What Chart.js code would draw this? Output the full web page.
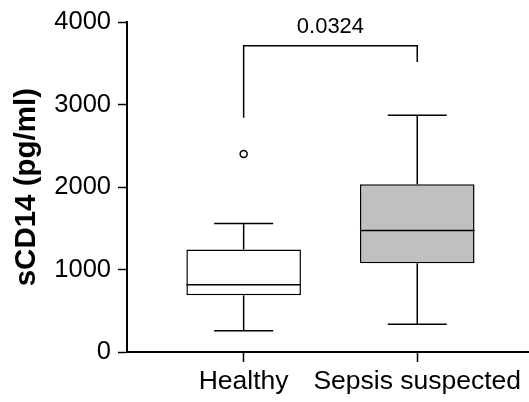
<!DOCTYPE html>
<html>
<head>
<meta charset="utf-8">
<script src="https://cdn.jsdelivr.net/npm/chart.js@4"></script>
<style>
  html, body { margin: 0; padding: 0; background: #fff; }
  #wrap { width: 529px; height: 402px; }
</style>
</head>
<body>
<div id="wrap"><canvas id="sCD14Chart"></canvas></div>
<script>
// valores (pg/ml)
const groups = ['Healthy', 'Sepsis suspected'];
const positions = [1, 2];
const whiskerLow = [257, 337];
const q1 = [687, 1076];
const median = [816, 1473];
const q3 = [1245, 2036];
const whiskerHigh = [1558, 2871];
const outliers = [[2401], []];
const yTicks = [0, 1000, 2000, 3000, 4000];
const boxColors = ['#ffffff', '#c0c0c0'];
const pValue = '0.0324';
const bracketTop = 3714;
const bracketEnds = [2843, 3518];

const FONT = 'Arial, "Liberation Sans", Helvetica, sans-serif';
const CAP_HALF = 0.17;

// whiskers, mediana e colchete do p-valor
const boxExtras = {
    id: 'boxExtras',
    afterDatasetsDraw(chart) {
        const { ctx, scales: { x, y } } = chart;
        const bars = chart.getDatasetMeta(0).data;
        ctx.save();
        ctx.strokeStyle = '#000';
        ctx.lineWidth = 1.5;
        const line = (x1, y1, x2, y2) => {
            ctx.beginPath();
            ctx.moveTo(x1, y1);
            ctx.lineTo(x2, y2);
            ctx.stroke();
        };
        positions.forEach((p, i) => {
            const cx = x.getPixelForValue(p);
            const cap = x.getPixelForValue(p + CAP_HALF) - cx;
            const half = bars[i].width / 2;
            line(cx, y.getPixelForValue(q3[i]), cx, y.getPixelForValue(whiskerHigh[i]));
            line(cx, y.getPixelForValue(q1[i]), cx, y.getPixelForValue(whiskerLow[i]));
            line(cx - cap, y.getPixelForValue(whiskerHigh[i]), cx + cap, y.getPixelForValue(whiskerHigh[i]));
            line(cx - cap, y.getPixelForValue(whiskerLow[i]), cx + cap, y.getPixelForValue(whiskerLow[i]));
            line(cx - half, y.getPixelForValue(median[i]), cx + half, y.getPixelForValue(median[i]));
        });
        const xa = x.getPixelForValue(positions[0]);
        const xb = x.getPixelForValue(positions[1]);
        const yt = y.getPixelForValue(bracketTop);
        ctx.beginPath();
        ctx.moveTo(xa, y.getPixelForValue(bracketEnds[0]));
        ctx.lineTo(xa, yt);
        ctx.lineTo(xb, yt);
        ctx.lineTo(xb, y.getPixelForValue(bracketEnds[1]));
        ctx.stroke();
        ctx.fillStyle = '#000';
        ctx.font = '22px ' + FONT;
        ctx.textAlign = 'center';
        ctx.textBaseline = 'alphabetic';
        ctx.fillText(pValue, (xa + xb) / 2, yt - 13);
        ctx.restore();
    }
};

document.addEventListener('DOMContentLoaded', function() {
    const el = document.getElementById('sCD14Chart');
    new Chart(el, {
        type: 'bar',
        data: {
            datasets: [{
                type: 'bar',
                data: positions.map((p, i) => ({ x: p, y: [q1[i], q3[i]] })),
                backgroundColor: boxColors,
                borderColor: '#000',
                borderWidth: 1.5,
                borderSkipped: false,
                barPercentage: 0.66,
                categoryPercentage: 1
            }, {
                type: 'scatter',
                data: positions.flatMap((p, i) => outliers[i].map(v => ({ x: p, y: v }))),
                pointStyle: 'circle',
                pointRadius: 3.5,
                borderColor: '#000',
                borderWidth: 1.5,
                backgroundColor: '#fff'
            }]
        },
        options: {
            responsive: true,
            maintainAspectRatio: false,
            animation: false,
            layout: { autoPadding: false, padding: { top: 20, right: 1, left: 0, bottom: 0 } },
            plugins: { legend: { display: false }, tooltip: { enabled: false } },
            scales: {
                x: {
                    type: 'linear',
                    min: 0.328,
                    max: 2.638,
                    offset: false,
                    afterBuildTicks: s => { s.ticks = positions.map(v => ({ value: v })); },
                    afterFit: s => { s.height = 50; s.paddingLeft = 0; s.paddingRight = 0; },
                    grid: { offset: false, drawOnChartArea: false, drawTicks: true, tickLength: 10, tickColor: '#000', tickWidth: 1.5 },
                    border: { color: '#000', width: 2 },
                    ticks: {
                        color: '#000',
                        padding: 4,
                        maxRotation: 0,
                        autoSkip: false,
                        font: { family: FONT, size: 26.5 },
                        callback: v => groups[positions.indexOf(v)] ?? ''
                    }
                },
                y: {
                    min: yTicks[0],
                    max: yTicks[yTicks.length - 1],
                    afterBuildTicks: s => { s.ticks = yTicks.map(v => ({ value: v })); },
                    afterFit: s => { s.width = 127; },
                    grid: { drawOnChartArea: false, drawTicks: true, tickLength: 9, tickColor: '#000', tickWidth: 1.5 },
                    border: { color: '#000', width: 2 },
                    ticks: {
                        color: '#000',
                        padding: 7,
                        font: { family: FONT, size: 25.5 },
                        callback: v => String(v)
                    },
                    title: {
                        display: true,
                        text: 'sCD14 (pg/ml)',
                        color: '#000',
                        padding: { top: 9, bottom: 0 },
                        font: { family: FONT, size: 29.5, weight: 'bold' }
                    }
                }
            }
        },
        plugins: [boxExtras]
    });
});
</script>
</body>
</html>
